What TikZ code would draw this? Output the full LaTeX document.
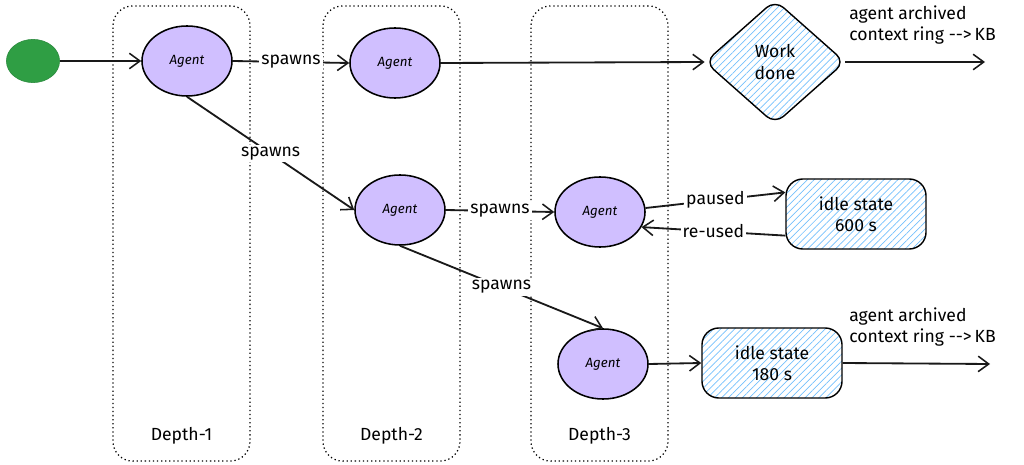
\documentclass[tikz,border=0pt]{standalone}
\usepackage{fontspec}
\setmainfont{Fira Sans}
\usetikzlibrary{shapes.geometric,arrows.meta,positioning,patterns.meta}
\definecolor{agentfill}{RGB}{208, 191, 255}
\definecolor{startfill}{RGB}{47, 158, 68}
\definecolor{startborder}{RGB}{43, 138, 62}
\definecolor{hatchblue}{RGB}{116, 192, 252}

\begin{document}
\begin{tikzpicture}[
    x=0.025cm, y=-0.025cm,
    font=\fontsize{12.5}{15}\selectfont,
    agent/.style={ellipse, draw=black, line width=1.1pt, fill=agentfill, inner sep=0pt,
        minimum width=2.25cm, minimum height=1.75cm, font=\fontsize{9.5}{11}\selectfont\itshape},
    startnode/.style={ellipse, draw=startborder, fill=startfill, inner sep=0pt,
        minimum width=1.33cm, minimum height=1.08cm},
    idlebox/.style={draw=black, line width=1pt, rounded corners=12pt, align=center, inner sep=0pt,
        pattern={Lines[angle=45, distance=3.5pt, line width=0.5pt]}, pattern color=hatchblue,
        minimum width=3.5cm, minimum height=1.75cm},
    donebox/.style={diamond, draw=black, line width=1pt, rounded corners=8pt, align=center, inner sep=0pt,
        aspect=1.13, pattern={Lines[angle=45, distance=3.5pt, line width=0.5pt]}, pattern color=hatchblue,
        minimum width=3.5cm, minimum height=3.1cm},
    depthbox/.style={draw=black, dotted, line width=0.9pt, rounded corners=14pt,
        minimum width=3.425cm, minimum height=11.375cm},
    note/.style={align=left, anchor=west, inner sep=0pt},
    arr/.style={-{Straight Barb[length=7.5pt, width=11pt, line width=1.1pt]}, line width=1.3pt, draw=black!90},
    arrlbl/.style={fill=white, inner sep=1.5pt}
]
\useasboundingbox (0,0) rectangle (1024,465);

% Depth columns
\node[depthbox] (d1) at (181.5,233.5) {};
\node[depthbox] (d2) at (391.5,233.5) {};
\node[depthbox] (d3) at (599.5,233.5) {};
\node[above=0.3cm of d1.south] (d1lbl) {Depth-1};
\node[above=0.3cm of d2.south] (d2lbl) {Depth-2};
\node[above=0.3cm of d3.south] (d3lbl) {Depth-3};

% Start and agents
\node[startnode] (start) at (33,61) {};
\node[agent] (a1) at (187,61) {Agent};
\node[agent] (a2) at (395,63) {Agent};
\node[agent] (a3) at (400,210) {Agent};
\node[agent] (a4) at (600,212) {Agent};
\node[agent] (a5) at (603,364) {Agent};

% End states
\node[donebox] (done) at (775,62) {Work\\done};
\node[idlebox] (idle600) at (856,214) {idle state\\600 s};
\node[idlebox] (idle180) at (772,363) {idle state\\180 s};

% Archive notes
\node[note] (arch1) at (849,25) {agent archived\\context ring -{}-{}>\,KB};
\node[note] (arch2) at (849,327) {agent archived\\context ring -{}-{}>\,KB};
\coordinate (kb1) at (985,62);
\coordinate (kb2) at (990,364);

% Connectors
\draw[arr] (start.east) -- (a1.west);
\draw[arr] (a1.east) -- node[arrlbl, midway] {spawns} (a2.west);
\draw[arr] (a1.south) -- node[arrlbl, midway] {spawns} (a3.west);
\draw[arr] (a2.east) -- (done.west);
\draw[arr] (a3.east) -- node[arrlbl, midway] {spawns} (a4.west);
\draw[arr] (a3.south) -- node[arrlbl, midway] {spawns} (a5.north);
\draw[arr] (a4.5) -- node[arrlbl, midway] {paused} (idle600.163);
\draw[arr] (idle600.197) -- node[arrlbl, midway] {re-used} (a4.-20);
\draw[arr] (a5.east) -- (idle180.west);
\draw[arr] (done.east) -- (kb1);
\draw[arr] (idle180.east) -- (kb2);

\end{tikzpicture}
\end{document}
